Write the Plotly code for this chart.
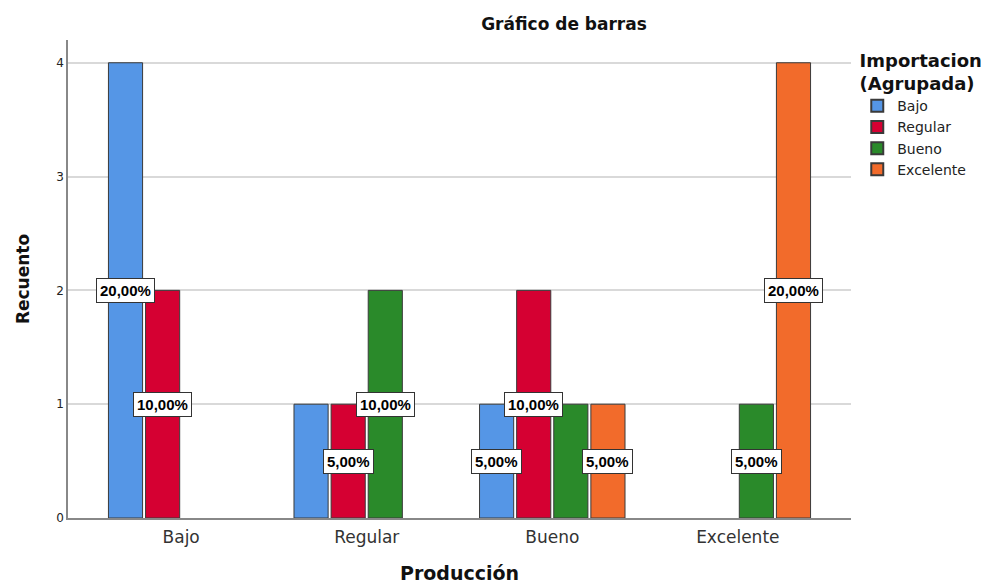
import plotly.graph_objects as go

categories = ["Bajo", "Regular", "Bueno", "Excelente"]
series_names = ["Bajo", "Regular", "Bueno", "Excelente"]
# counts per series (Importacion) across Producción categories
counts = {
    "Bajo":      [4, 1, 1, 0],
    "Regular":   [2, 1, 2, 0],
    "Bueno":     [0, 2, 1, 1],
    "Excelente": [0, 0, 1, 4],
}
colors = ["#5596E6", "#D50032", "#2A8A2A", "#F26B2B"]
y_ticks = [0, 1, 2, 3, 4]

total = sum(sum(v) for v in counts.values())

FONT = "DejaVu Sans, Verdana, sans-serif"
LABEL_FONT = "Liberation Sans, Arial, sans-serif"

fig = go.Figure()
for name, col in zip(series_names, colors):
    fig.add_trace(go.Bar(
        x=categories, y=[v if v else None for v in counts[name]], name=name,
        marker=dict(color=col, line=dict(color="#3a3a3a", width=1)),
    ))

# percentage labels (SPSS hides a label covered by the next one at same height)
n = len(series_names)
slot = 0.8 / n
for ci, cat in enumerate(categories):
    for si, name in enumerate(series_names):
        v = counts[name][ci]
        if v == 0:
            continue
        if si + 1 < n and counts[series_names[si + 1]][ci] == v:
            continue
        pct = v / total * 100
        txt = f"{pct:.2f}%".replace(".", ",")
        fig.add_annotation(
            x=ci + (si - (n - 1) / 2) * slot, y=v / 2, xref="x", yref="y",
            text=f"<b>{txt}</b>", showarrow=False,
            font=dict(family=LABEL_FONT, size=15, color="black"),
            bgcolor="white", bordercolor="#333333", borderwidth=1, borderpad=3,
        )

# page has an 8px body margin; figure sized to fit inside the window
W, H = 981, 576
L, R, T, B = 60, 138, 32, 66
fig.update_layout(
    width=W, height=H,
    margin=dict(l=L, r=R, t=T, b=B, autoexpand=False),
    paper_bgcolor="white", plot_bgcolor="white",
    barmode="group", bargap=0.2, bargroupgap=0.08,
    font=dict(family=FONT, color="#222222"),
    title=dict(text="<b>Gráfico de barras</b>", x=556 / W, xanchor="center",
               y=1 - 16 / H, yanchor="middle", font=dict(size=17, color="#111111")),
    legend=dict(
        title=dict(text="<b>Importacion<br>(Agrupada)</b>", side="top center",
                   font=dict(size=18, color="#111111")),
        x=1.008, xanchor="left", y=0.993, yanchor="top",
        font=dict(size=14, color="#222222"),
        itemwidth=30, tracegroupgap=0, itemsizing="constant",
    ),
    xaxis=dict(
        range=[-0.61, 3.61], showgrid=False, showline=True, linecolor="#888888",
        linewidth=1.5, ticks="", tickfont=dict(size=17, color="#333333"),
        ticklabelstandoff=3, automargin=False,
        title=dict(text="<b>Producción</b>", font=dict(size=19, color="#111111"), standoff=24),
    ),
    yaxis=dict(
        range=[0, 4.2], tickvals=y_ticks, showgrid=True, gridcolor="#d9d9d9",
        gridwidth=1.5, showline=True, linecolor="#888888", linewidth=1.5,
        ticks="", tickfont=dict(size=12, color="#222222"), zeroline=False,
        automargin=False,
        title=dict(text="<b>Recuento</b>", font=dict(size=17, color="#111111"), standoff=22),
    ),
)

fig.write_html("out.html")
